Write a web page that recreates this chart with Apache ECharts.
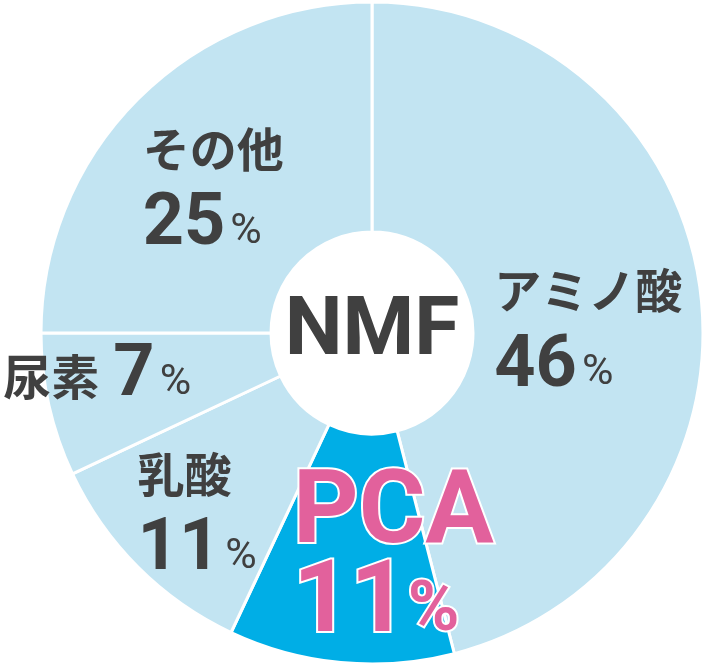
<!DOCTYPE html>
<html>
<head>
<meta charset="utf-8">
<script src="https://cdn.jsdelivr.net/npm/echarts@6/dist/echarts.min.js"></script>
<style>
html,body{margin:0;padding:0;background:#fff;}
#main{width:704px;height:664px;}
</style>
</head>
<body>
<div id="main"></div>
<script>
// NMF composition
var categories = ['アミノ酸', 'PCA', '乳酸', '尿素', 'その他'];
var values = [46, 11, 11, 7, 25];
var centerText = 'NMF';

var lightBlue = '#c2e4f2';
var strongBlue = '#00aee6';
var textColor = '#404040';
var pink = '#e2619c';

var data = [];
for (var i = 0; i < categories.length; i++) {
    data.push({
        name: categories[i],
        value: values[i],
        itemStyle: { color: categories[i] == 'PCA' ? strongBlue : lightBlue }
    });
}

// label nudges, per slice
var shift = [
    { dx: -1, dy: 33 },
    { dx: 42, dy: 10 },
    { dx: -20, dy: 34 },
    { dx: -61, dy: -4 },
    { dx: -4, dy: 19 }
];

var cx = 372, cy = 333;

var myChart = echarts.init(document.getElementById('main'));
var option = {
    animation: false,
    graphic: [
        {
            type: 'text',
            x: cx,
            y: cy,
            style: {
                text: centerText,
                align: 'center',
                verticalAlign: 'middle',
                textAlign: 'center',
                textVerticalAlign: 'middle',
                fontFamily: 'Roboto',
                fontWeight: 'bold',
                fontSize: 82,
                fill: textColor
            }
        }
    ],
    series: [
        {
            type: 'pie',
            center: [cx, cy],
            radius: [101, 331],
            startAngle: 90,
            clockwise: true,
            avoidLabelOverlap: false,
            itemStyle: {
                borderColor: '#fff',
                borderWidth: 3
            },
            label: {
                show: true,
                position: 'inside',
                formatter: function (p) {
                    if (p.name == 'PCA') {
                        return '{pn|' + p.name + '}\n{pv|' + p.value + '}{pp|%}';
                    }
                    if (p.dataIndex == 3) {
                        return '{ns|' + p.name + '}{v|' + p.value + '}{p|%}';
                    }
                    return '{n|' + p.name + '}\n{v|' + p.value + '}{p|%}';
                },
                rich: {
                    n: { fontFamily: '"Noto Sans CJK JP"', fontWeight: 'bold', fontSize: 47, color: textColor, lineHeight: 58, align: 'left' },
                    ns: { fontFamily: '"Noto Sans CJK JP"', fontWeight: 'bold', fontSize: 48, color: textColor, lineHeight: 58, align: 'left', padding: [0, 14, 0, 0] },
                    v: { fontFamily: 'Roboto', fontWeight: 'bold', fontSize: 72, color: textColor, lineHeight: 96, align: 'left' },
                    p: { fontFamily: 'Roboto', fontWeight: 'normal', fontSize: 43, color: textColor, lineHeight: 96, align: 'left', padding: [12, 0, 0, 5] },
                    pn: { fontFamily: 'Roboto', fontWeight: 'bold', fontSize: 102, color: pink, textBorderColor: '#fff', textBorderWidth: 4, lineHeight: 90, align: 'left' },
                    pv: { fontFamily: 'Roboto', fontWeight: 'bold', fontSize: 100, color: pink, textBorderColor: '#fff', textBorderWidth: 4, lineHeight: 90, align: 'left' },
                    pp: { fontFamily: 'Roboto', fontWeight: 'bold', fontSize: 70, color: pink, textBorderColor: '#fff', textBorderWidth: 4, lineHeight: 90, align: 'left', padding: [12, 0, 0, 0] }
                }
            },
            labelLine: { show: false },
            labelLayout: function (params) {
                return shift[params.dataIndex];
            },
            emphasis: { disabled: true },
            data: data
        }
    ]
};
myChart.setOption(option);
</script>
</body>
</html>
